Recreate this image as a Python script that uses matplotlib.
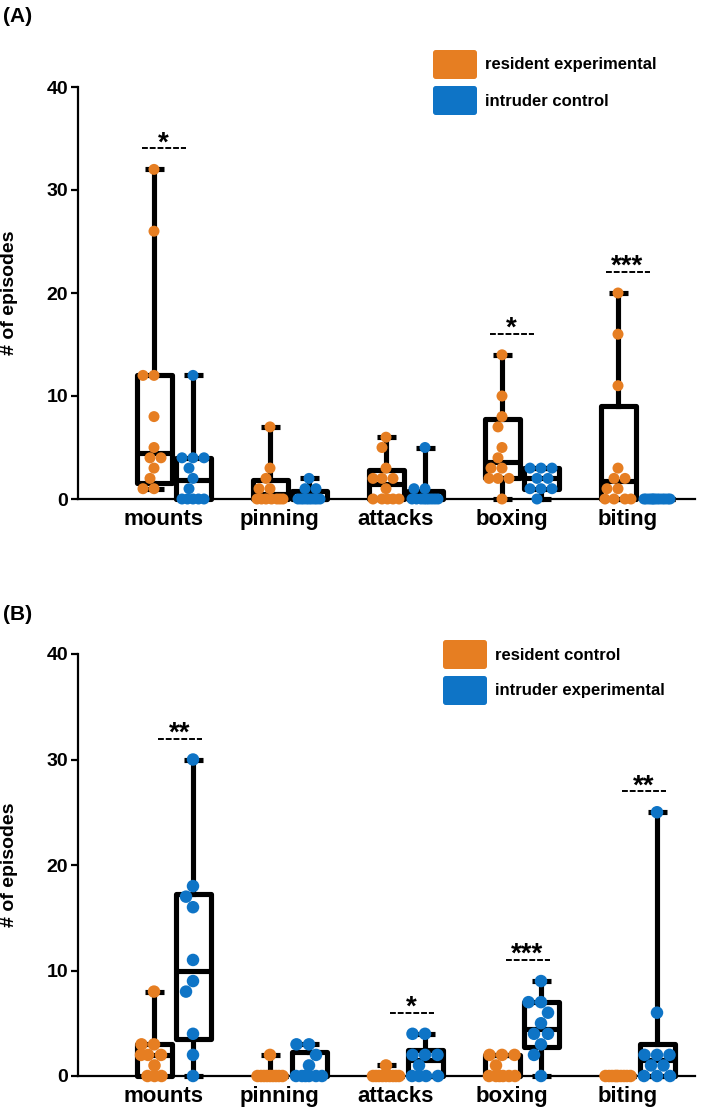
import matplotlib.pyplot as plt
import numpy as np
from matplotlib.patches import Rectangle, FancyBboxPatch

plt.rcParams['font.family'] = ['Liberation Sans', 'DejaVu Sans']
plt.rcParams['font.weight'] = 'bold'

W_PX, H_PX = 709, 1114
ORANGE = '#E67E22'
BLUE = '#0E74C6'

behaviours = ['mounts', 'pinning', 'attacks', 'boxing', 'biting']

# ---- panel A : resident experimental (orange) vs intruder control (blue)
a_orange_pts = [
    [32, 26, 12, 12, 8, 5, 4, 4, 3, 2, 1, 1],
    [7, 3, 2, 1, 1, 0, 0, 0, 0, 0, 0, 0],
    [6, 5, 3, 2, 2, 2, 1, 0, 0, 0, 0, 0],
    [14, 10, 8, 7, 5, 4, 3, 3, 2, 2, 2, 0],
    [20, 16, 11, 3, 2, 2, 1, 1, 0, 0, 0, 0],
]
a_blue_pts = [
    [12, 4, 4, 4, 3, 2, 1, 0, 0, 0, 0, 0],
    [2, 1, 1, 0, 0, 0, 0, 0, 0, 0, 0, 0],
    [5, 1, 1, 0, 0, 0, 0, 0, 0, 0, 0, 0],
    [3, 3, 3, 2, 2, 1, 1, 1, 0],
    [0, 0, 0, 0, 0, 0, 0, 0, 0, 0, 0, 0],
]
a_orange_q1 = [1.6, 0, 0, 2.0, 0]
a_orange_med = [4.5, 0.5, 1.5, 3.6, 1.7]
a_orange_q3 = [12, 1.8, 2.8, 7.8, 9]
a_blue_q1 = [0, 0, 0, 1, 0]
a_blue_med = [1.8, 0, 0, 2, 0]
a_blue_q3 = [4, 0.8, 0.8, 3, 0]
a_stars = ['*', '', '', '*', '***']
a_legend = ['resident experimental', 'intruder control']

# ---- panel B : resident control (orange) vs intruder experimental (blue)
b_orange_pts = [
    [8, 3, 3, 2, 2, 2, 1, 0, 0, 0],
    [2, 0, 0, 0, 0, 0, 0, 0, 0, 0],
    [1, 0, 0, 0, 0, 0, 0, 0, 0, 0],
    [2, 2, 2, 1, 0, 0, 0, 0, 0, 0],
    [0, 0, 0, 0, 0, 0, 0, 0, 0, 0],
]
b_blue_pts = [
    [30, 18, 17, 16, 11, 9, 8, 4, 2, 0],
    [3, 3, 2, 1, 0, 0, 0, 0, 0, 0],
    [4, 4, 2, 2, 2, 1, 0, 0, 0, 0],
    [9, 7, 7, 6, 5, 4, 4, 3, 2, 0],
    [25, 6, 2, 2, 2, 1, 1, 0, 0, 0],
]
b_orange_q1 = [0, 0, 0, 0, 0]
b_orange_med = [2, 0, 0, 0, 0]
b_orange_q3 = [3, 0, 0, 2, 0]
b_blue_q1 = [3.5, 0, 0, 2.75, 0]
b_blue_med = [10, 0, 1.5, 4.5, 1.5]
b_blue_q3 = [17.25, 2.3, 2.5, 7, 3]
b_stars = ['**', '', '*', '***', '**']
b_legend = ['resident control', 'intruder experimental']


def swarm_offsets(vals, sx, sy, diam, half_w):
    # simple deterministic beeswarm in pixel space
    cand = np.arange(-half_w, half_w + 0.01, 0.5)
    cand = cand[np.argsort(np.abs(cand), kind='stable')]
    placed = []
    out = []
    for v in vals:
        y = v * sy
        best, best_d = 0.0, -1.0
        for c in cand:
            d = min([np.hypot(c - px, y - py) for px, py in placed], default=1e9)
            if d >= diam:
                best = c
                break
            if d > best_d + 1e-6:
                best, best_d = c, d
        placed.append((best, y))
        out.append(best / sx)
    return np.array(out)


def draw_group(ax, x, pts, q1, med, q3, color, sx, sy, diam):
    lw = 3.7
    hw = 17.5 / sx
    cap = 9.5 / sx
    lo, hi = min(pts), max(pts)
    ax.add_patch(Rectangle((x - hw, q1), 2 * hw, q3 - q1, fill=False,
                           edgecolor='black', lw=lw, joinstyle='round',
                           zorder=2, clip_on=False))
    ax.plot([x - hw, x + hw], [med, med], color='black', lw=lw,
            solid_capstyle='butt', zorder=2, clip_on=False)
    ax.plot([x, x], [q3, hi], color='black', lw=lw, zorder=2, clip_on=False)
    ax.plot([x, x], [lo, q1], color='black', lw=lw, zorder=2, clip_on=False)
    for v in (lo, hi):
        ax.plot([x - cap, x + cap], [v, v], color='black', lw=lw,
                solid_capstyle='butt', zorder=2, clip_on=False)
    offs = swarm_offsets(pts, sx, sy, diam, 13)
    ax.scatter(x + offs, pts, s=(diam * 0.72) ** 2, color=color,
               edgecolors='none', zorder=3, clip_on=False)


def panel(top_px, bot_px, label, label_y, o_pts, b_pts, o_stats, b_stats,
          stars, leg_labels, leg_x, leg_y, diam, star_shift):
    left, right = 78, 695
    ax = fig.add_axes([left / W_PX, 1 - bot_px / H_PX,
                       (right - left) / W_PX, (bot_px - top_px) / H_PX])
    c0 = 173.5
    ax.set_xlim((left - c0) / 116, (right - c0) / 116)
    ax.set_ylim(0, 40)
    p = ax.transData.transform([(0, 0), (1, 1)])
    sx, sy = p[1] - p[0]
    off = 19.5 / sx
    for i in range(len(behaviours)):
        draw_group(ax, i - off, o_pts[i], o_stats[0][i], o_stats[1][i],
                   o_stats[2][i], ORANGE, sx, sy, diam)
        draw_group(ax, i + off, b_pts[i], b_stats[0][i], b_stats[1][i],
                   b_stats[2][i], BLUE, sx, sy, diam)
        if stars[i]:
            top = max(max(o_pts[i]), max(b_pts[i]))
            dy = top + 21 / sy
            cx = i + star_shift / sx
            hl = 22 / sx
            ax.plot([cx - hl, cx + hl], [dy, dy], color='black', lw=1.4,
                    dashes=(3.0, 1.0), clip_on=False)
            ax.text(cx, dy - 2 / sy, stars[i], ha='center', va='baseline',
                    fontsize=20, fontweight='bold')

    for s in ('top', 'right'):
        ax.spines[s].set_visible(False)
    for s in ('left', 'bottom'):
        ax.spines[s].set_linewidth(1.6)
    ax.set_yticks([0, 10, 20, 30, 40])
    ax.tick_params(axis='y', length=5, width=1.6, labelsize=14, pad=2)
    ax.set_xticks(np.arange(len(behaviours)) - 10 / sx)
    ax.set_xticklabels(behaviours)
    ax.tick_params(axis='x', length=0, labelsize=16, pad=7)
    ax.set_ylabel('# of episodes', fontsize=14, fontweight='bold')
    ax.yaxis.set_label_coords(-0.097, 0.5)

    fig.text(3 / W_PX, 1 - label_y / H_PX, label, fontsize=15,
             fontweight='bold', va='center', ha='left')

    for k, (lab, col) in enumerate(zip(leg_labels, [ORANGE, BLUE])):
        y0 = leg_y + k * 36
        fig.patches.append(FancyBboxPatch(
            (leg_x / W_PX, 1 - (y0 + 29) / H_PX), 44 / W_PX, 29 / H_PX,
            boxstyle='round,pad=0,rounding_size=0.004',
            mutation_aspect=W_PX / H_PX, facecolor=col, edgecolor='none',
            transform=fig.transFigure, figure=fig))
        fig.text((leg_x + 52) / W_PX, 1 - (y0 + 15) / H_PX, lab,
                 fontsize=12, fontweight='bold', va='center', ha='left')
    return ax


fig = plt.figure(figsize=(W_PX / 100, H_PX / 100), dpi=100)

panel(87, 499, '(A)', 16, a_orange_pts, a_blue_pts,
      (a_orange_q1, a_orange_med, a_orange_q3),
      (a_blue_q1, a_blue_med, a_blue_q3), a_stars, a_legend, 433, 50, 11, -10)
panel(654, 1076, '(B)', 614, b_orange_pts, b_blue_pts,
      (b_orange_q1, b_orange_med, b_orange_q3),
      (b_blue_q1, b_blue_med, b_blue_q3), b_stars, b_legend, 443, 640, 12.5, 6)

fig.savefig('out.png', dpi=100)
